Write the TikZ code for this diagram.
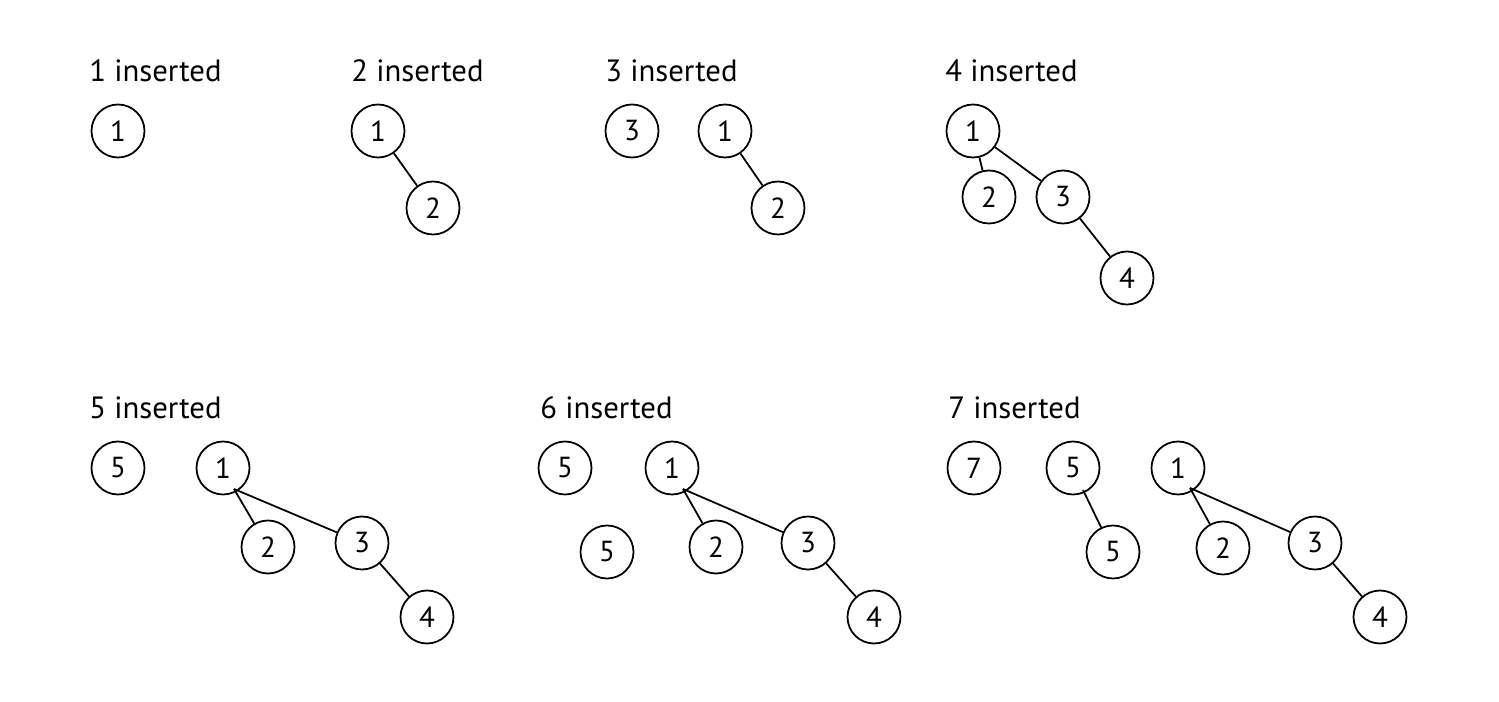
\documentclass[tikz,border=0pt]{standalone}
\usepackage{fontspec}
\setmainfont{PT Sans}
\usetikzlibrary{positioning}

\begin{document}
\begin{tikzpicture}[x=0.02cm, y=-0.02cm,
    key/.style={circle, draw, line width=1pt, minimum size=1.06cm, inner sep=0pt,
                font=\fontsize{16.5}{19}\selectfont},
    title/.style={anchor=base west, inner sep=0pt, font=\fontsize{17.5}{20}\selectfont},
    link/.style={line width=1pt}]

    % page frame (pixel grid of the reference)
    \useasboundingbox (0,0) rectangle (1499,702);

    % 1. one key
    \node[title] (t1) at (89,82) {1 inserted};
    \node[key] (a1) at (118,131) {1};

    % 2. two keys
    \node[title] (t2) at (351,82) {2 inserted};
    \node[key] (b1) at (378,131) {1};
    \node[key] (b2) at (433,208) {2};
    \draw[link] (b1) -- (b2);

    % 3. three keys
    \node[title] (t3) at (605,82) {3 inserted};
    \node[key] (c3) at (632,131) {3};
    \node[key] (c1) at (725,131) {1};
    \node[key] (c2) at (778,208) {2};
    \draw[link] (c1) -- (c2);

    % 4. four keys
    \node[title] (t4) at (945,82) {4 inserted};
    \node[key] (d1) at (973,131) {1};
    \node[key] (d2) at (989,197) {2};
    \node[key] (d3) at (1063,197) {3};
    \node[key] (d4) at (1127,278) {4};
    \draw[link] (d1) -- (d2);
    \draw[link] (d1) -- (d3);
    \draw[link] (d3) -- (d4);

    % 5. five keys
    \node[title] (t5) at (89,419) {5 inserted};
    \node[key] (e5) at (118,468) {5};
    \node[key] (e1) at (223,468) {1};
    \node[key] (e2) at (268,547) {2};
    \node[key] (e3) at (362,543) {3};
    \node[key] (e4) at (427,617) {4};
    \coordinate (e1j) at (234,489);
    \draw[link] (e1j) -- (e2);
    \draw[link] (e1j) -- (e3);
    \draw[link] (e3) -- (e4);

    % 6. six keys
    \node[title] (t6) at (540,419) {6 inserted};
    \node[key] (f5) at (565,468) {5};
    \node[key] (f5b) at (607,552) {5};
    \node[key] (f1) at (672,468) {1};
    \node[key] (f2) at (716,547) {2};
    \node[key] (f3) at (808,543) {3};
    \node[key] (f4) at (874,617) {4};
    \coordinate (f1j) at (683,489);
    \draw[link] (f1j) -- (f2);
    \draw[link] (f1j) -- (f3);
    \draw[link] (f3) -- (f4);

    % 7. seven keys
    \node[title] (t7) at (948,419) {7 inserted};
    \node[key] (g7) at (974,468) {7};
    \node[key] (g5) at (1073,468) {5};
    \node[key] (g5b) at (1113,552) {5};
    \node[key] (g1) at (1178,468) {1};
    \node[key] (g2) at (1223,548) {2};
    \node[key] (g3) at (1315,543) {3};
    \node[key] (g4) at (1380,617) {4};
    \coordinate (g5j) at (1083,490);
    \coordinate (g1j) at (1190,488);
    \draw[link] (g5j) -- (g5b);
    \draw[link] (g1j) -- (g2);
    \draw[link] (g1j) -- (g3);
    \draw[link] (g3) -- (g4);

\end{tikzpicture}
\end{document}
